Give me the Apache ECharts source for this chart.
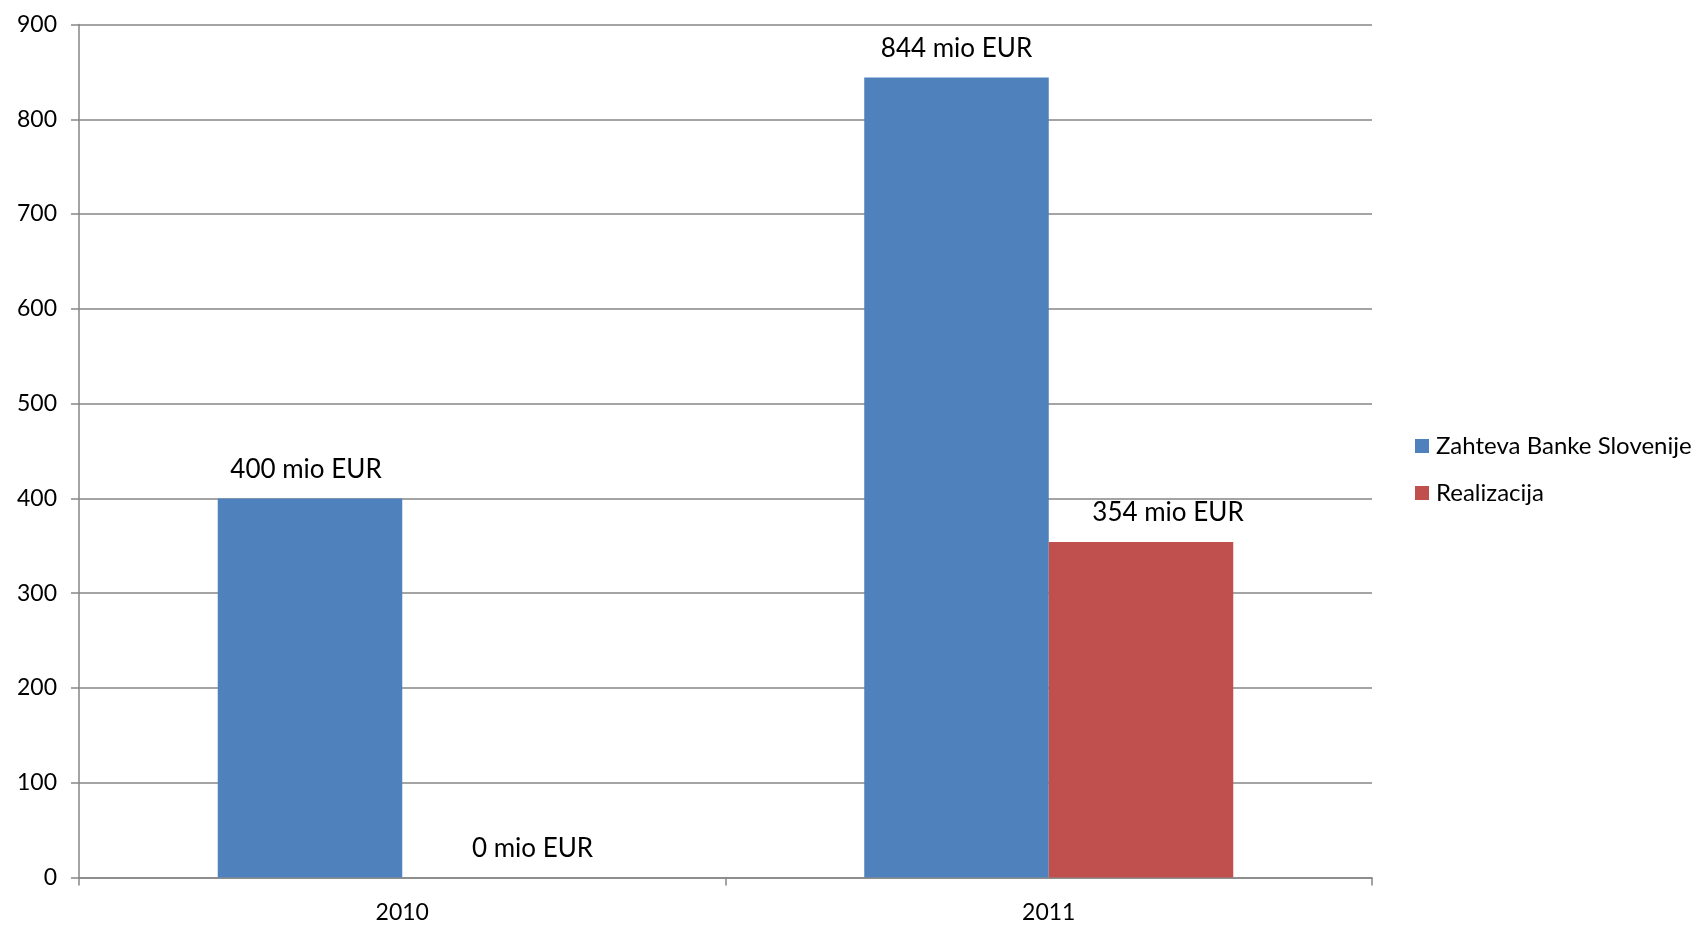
<!DOCTYPE html>
<html>
<head>
<meta charset="utf-8">
<script src="https://cdn.jsdelivr.net/npm/echarts@6/dist/echarts.min.js"></script>
<style>
  html, body { margin: 0; padding: 0; background: #fff; }
  #main { width: 1700px; height: 925px; }
</style>
</head>
<body>
<div id="main"></div>
<script>
// podatki
const years = ['2010', '2011'];
const zahteva = [400, 844];
const realizacija = [0, 354];
const seriesNames = ['Zahteva Banke Slovenije', 'Realizacija'];

// zamik oznak kot v originalu (Excel jih ni centriral)
const zahtevaLabelShift = [-4, 0];
const realizacijaLabelShift = [38, 27];

const chart = echarts.init(document.getElementById('main'));
const font = 'Lato';

const labelOpt = {
  show: true,
  position: 'top',
  distance: 16,
  fontFamily: font,
  fontSize: 26,
  color: '#000',
  formatter: p => p.value + ' mio EUR'
};

function withShift(values, shifts) {
  return values.map((v, i) => ({ value: v, label: { offset: [shifts[i], 0] } }));
}

const option = {
  animation: false,
  textStyle: { fontFamily: font },
  grid: { left: 79, right: 328, top: 24.5, bottom: 47.5 },
  legend: {
    orient: 'vertical',
    left: 1410,
    top: 429,
    icon: 'rect',
    itemWidth: 14,
    itemHeight: 14,
    itemGap: 23,
    textStyle: { fontFamily: font, fontSize: 24, lineHeight: 24, color: '#000', padding: [0, 0, 0, 2] },
    data: seriesNames
  },
  xAxis: {
    type: 'category',
    data: years,
    axisLine: { lineStyle: { color: '#868686', width: 1.5 } },
    axisTick: { show: true, length: 8, lineStyle: { color: '#868686', width: 1.5 } },
    axisLabel: { fontFamily: font, fontSize: 23, color: '#000', margin: 24 }
  },
  yAxis: {
    type: 'value',
    min: 0,
    max: 900,
    interval: 100,
    axisLine: { show: true, lineStyle: { color: '#868686', width: 1.5 } },
    axisTick: { show: true, length: 8, lineStyle: { color: '#868686', width: 1.5 } },
    splitLine: { lineStyle: { color: '#868686', width: 1.5 } },
    axisLabel: { fontFamily: font, fontSize: 23, color: '#000', margin: 22 }
  },
  series: [
    {
      name: seriesNames[0],
      type: 'bar',
      data: withShift(zahteva, zahtevaLabelShift),
      barWidth: 184.5,
      barGap: '0%',
      itemStyle: { color: '#4F81BD' },
      label: labelOpt
    },
    {
      name: seriesNames[1],
      type: 'bar',
      data: withShift(realizacija, realizacijaLabelShift),
      barWidth: 184.5,
      itemStyle: { color: '#C0504D' },
      label: labelOpt
    }
  ]
};

chart.setOption(option);
</script>
</body>
</html>
